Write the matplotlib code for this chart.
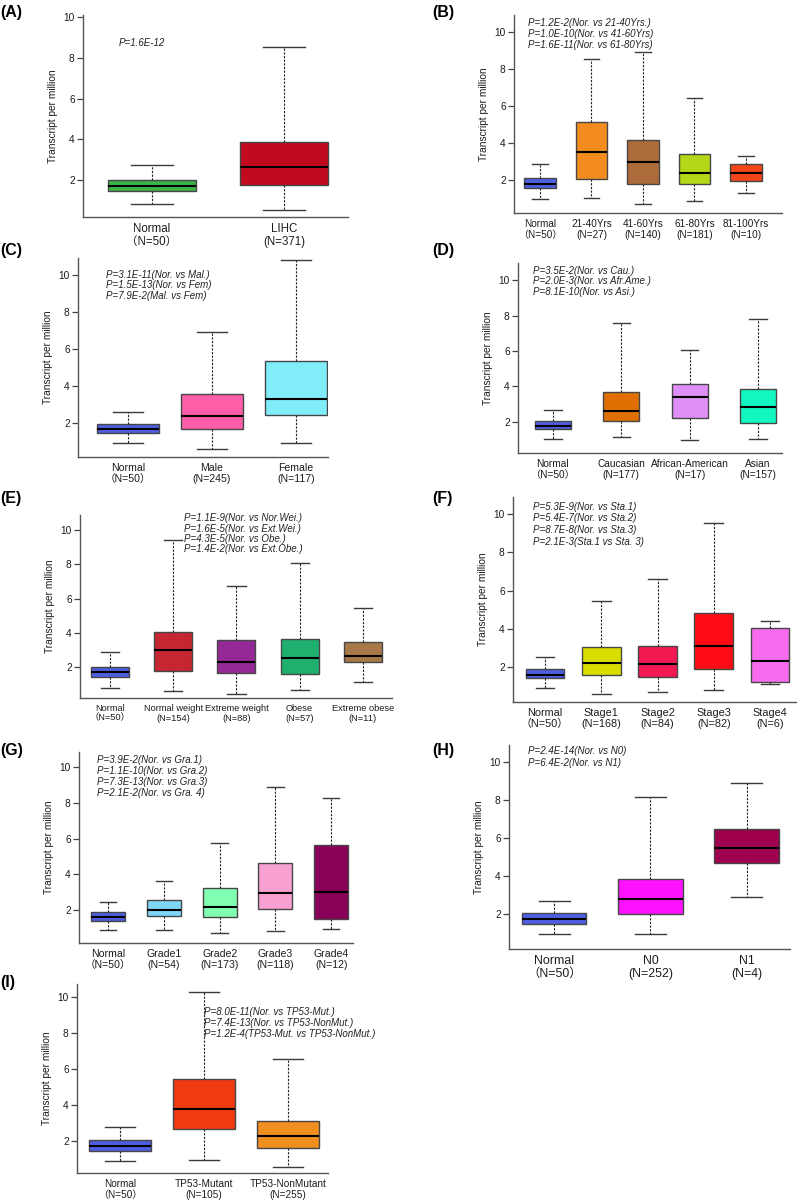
"""
Expression boxplots (TPM) in LIHC, split by clinical subgroups, panels A-I.
Box statistics read off the published figure.
"""

import matplotlib
matplotlib.use("Agg")
import matplotlib.pyplot as plt

W, H = 797, 1202
plt.rcParams["font.family"] = ["Liberation Sans", "Noto Sans CJK SC", "DejaVu Sans"]

# ── data: whisker low, Q1, median, Q3, whisker high ─────────────────────────

A_GROUPS = ["Normal", "LIHC"]
A_N = [50, 371]
A_LOW = [0.85, 0.55]
A_Q1 = [1.45, 1.78]
A_MED = [1.70, 2.65]
A_Q3 = [2.00, 3.88]
A_HIGH = [2.75, 8.55]
A_P = ["P=1.6E-12"]

B_GROUPS = ["Normal", "21-40Yrs", "41-60Yrs", "61-80Yrs", "81-100Yrs"]
B_N = [50, 27, 140, 181, 10]
B_LOW = [0.95, 1.05, 0.70, 0.85, 1.30]
B_Q1 = [1.55, 2.05, 1.80, 1.80, 1.95]
B_MED = [1.80, 3.50, 2.95, 2.40, 2.40]
B_Q3 = [2.10, 5.12, 4.15, 3.40, 2.85]
B_HIGH = [2.85, 8.55, 8.90, 6.45, 3.30]
B_P = ["P=1.2E-2(Nor. vs 21-40Yrs.)",
       "P=1.0E-10(Nor. vs 41-60Yrs)",
       "P=1.6E-11(Nor. vs 61-80Yrs)"]

C_GROUPS = ["Normal", "Male", "Female"]
C_N = [50, 245, 117]
C_LOW = [0.90, 0.60, 0.90]
C_Q1 = [1.45, 1.68, 2.42]
C_MED = [1.68, 2.35, 3.30]
C_Q3 = [1.92, 3.55, 5.35]
C_HIGH = [2.60, 6.90, 10.80]
C_P = ["P=3.1E-11(Nor. vs Mal.)",
       "P=1.5E-13(Nor. vs Fem)",
       "P=7.9E-2(Mal. vs Fem)"]

D_GROUPS = ["Normal", "Caucasian", "African-American", "Asian"]
D_N = [50, 177, 17, 157]
D_LOW = [1.05, 1.15, 1.00, 1.05]
D_Q1 = [1.58, 2.05, 2.22, 1.92]
D_MED = [1.80, 2.60, 3.38, 2.85]
D_Q3 = [2.08, 3.68, 4.12, 3.85]
D_HIGH = [2.70, 7.60, 6.05, 7.82]
D_P = ["P=3.5E-2(Nor. vs Cau.)",
       "P=2.0E-3(Nor. vs Afr.Ame.)",
       "P=8.1E-10(Nor. vs Asi.)"]

E_GROUPS = ["Normal", "Normal weight", "Extreme weight", "Obese", "Extreme obese"]
E_N = [50, 154, 88, 57, 11]
E_LOW = [0.75, 0.62, 0.45, 0.68, 1.12]
E_Q1 = [1.40, 1.75, 1.65, 1.60, 2.30]
E_MED = [1.72, 3.00, 2.27, 2.52, 2.65]
E_Q3 = [2.02, 4.05, 3.55, 3.62, 3.48]
E_HIGH = [2.90, 9.40, 6.72, 8.05, 5.47]
E_P = ["P=1.1E-9(Nor. vs Nor.Wei.)",
       "P=1.6E-5(Nor. vs Ext.Wei.)",
       "P=4.3E-5(Nor. vs Obe.)",
       "P=1.4E-2(Nor. vs Ext.Obe.)"]

F_GROUPS = ["Normal", "Stage1", "Stage2", "Stage3", "Stage4"]
F_N = [50, 168, 84, 82, 6]
F_LOW = [0.90, 0.60, 0.70, 0.80, 1.10]
F_Q1 = [1.45, 1.60, 1.50, 1.92, 1.20]
F_MED = [1.60, 2.20, 2.17, 3.12, 2.30]
F_Q3 = [1.88, 3.07, 3.12, 4.80, 4.05]
F_HIGH = [2.50, 5.45, 6.62, 9.55, 4.40]
F_P = ["P=5.3E-9(Nor. vs Sta.1)",
       "P=5.4E-7(Nor. vs Sta.2)",
       "P=8.7E-8(Nor. vs Sta.3)",
       "P=2.1E-3(Sta.1 vs Sta. 3)"]

G_GROUPS = ["Normal", "Grade1", "Grade2", "Grade3", "Grade4"]
G_N = [50, 54, 173, 118, 12]
G_LOW = [0.88, 0.90, 0.70, 0.82, 0.97]
G_Q1 = [1.40, 1.67, 1.60, 2.08, 1.48]
G_MED = [1.60, 2.00, 2.20, 2.98, 3.00]
G_Q3 = [1.88, 2.57, 3.22, 4.65, 5.65]
G_HIGH = [2.48, 3.65, 5.77, 8.88, 8.28]
G_P = ["P=3.9E-2(Nor. vs Gra.1)",
       "P=1.1E-10(Nor. vs Gra.2)",
       "P=7.3E-13(Nor. vs Gra.3)",
       "P=2.1E-2(Nor. vs Gra. 4)"]

H_GROUPS = ["Normal", "N0", "N1"]
H_N = [50, 252, 4]
H_LOW = [0.95, 0.97, 2.88]
H_Q1 = [1.50, 2.00, 4.70]
H_MED = [1.75, 2.78, 5.45]
H_Q3 = [2.05, 3.82, 6.45]
H_HIGH = [2.70, 8.15, 8.88]
H_P = ["P=2.4E-14(Nor. vs N0)",
       "P=6.4E-2(Nor. vs N1)"]

I_GROUPS = ["Normal", "TP53-Mutant", "TP53-NonMutant"]
I_N = [50, 105, 255]
I_LOW = [0.88, 0.92, 0.57]
I_Q1 = [1.42, 2.68, 1.60]
I_MED = [1.70, 3.80, 2.30]
I_Q3 = [2.08, 5.45, 3.13]
I_HIGH = [2.75, 10.30, 6.57]
I_P = ["P=8.0E-11(Nor. vs TP53-Mut.)",
       "P=7.4E-13(Nor. vs TP53-NonMut.)",
       "P=1.2E-4(TP53-Mut. vs TP53-NonMut.)"]

# ── styles ───────────────────────────────────────────────────────────────────
NORMAL_BLUE = "#4f5ee0"
COLORS = {
    "A": ["#3db449", "#c20a1e"],
    "B": [NORMAL_BLUE, "#f28c1e", "#ad6a3a", "#b4d718", "#f2451a"],
    "C": [NORMAL_BLUE, "#ff5ea8", "#80edf9"],
    "D": [NORMAL_BLUE, "#de6f00", "#df8ff7", "#12f7bf"],
    "E": [NORMAL_BLUE, "#c6262f", "#942894", "#1fb06f", "#a87848"],
    "F": [NORMAL_BLUE, "#d8df00", "#f21852", "#fe0b16", "#f76cef"],
    "G": [NORMAL_BLUE, "#80d6f7", "#80ffb2", "#f8a0d2", "#880057"],
    "H": [NORMAL_BLUE, "#ff12ff", "#9e004e"],
    "I": [NORMAL_BLUE, "#f03a12", "#f08e20"],
}
TEXT = "#1c1c1c"

DATA = {
    "A": (A_GROUPS, A_N, A_LOW, A_Q1, A_MED, A_Q3, A_HIGH, A_P),
    "B": (B_GROUPS, B_N, B_LOW, B_Q1, B_MED, B_Q3, B_HIGH, B_P),
    "C": (C_GROUPS, C_N, C_LOW, C_Q1, C_MED, C_Q3, C_HIGH, C_P),
    "D": (D_GROUPS, D_N, D_LOW, D_Q1, D_MED, D_Q3, D_HIGH, D_P),
    "E": (E_GROUPS, E_N, E_LOW, E_Q1, E_MED, E_Q3, E_HIGH, E_P),
    "F": (F_GROUPS, F_N, F_LOW, F_Q1, F_MED, F_Q3, F_HIGH, F_P),
    "G": (G_GROUPS, G_N, G_LOW, G_Q1, G_MED, G_Q3, G_HIGH, G_P),
    "H": (H_GROUPS, H_N, H_LOW, H_Q1, H_MED, H_Q3, H_HIGH, H_P),
    "I": (I_GROUPS, I_N, I_LOW, I_Q1, I_MED, I_Q3, I_HIGH, I_P),
}

# layout in pixels: axes (left, top, right, bottom), xlim, ylim, box width,
# x-label font size, p-value text (x, line y's), panel letter (x, y)
LAYOUT = {
    "A": dict(rect=(83, 15, 348, 217), xlim=(0.477, 2.485), ylim=(0.19, 10.1),
              w=0.67, xfs=8.3, ptxt=(119, [43]), tag=(0, 12)),
    "B": dict(rect=(514, 15, 782, 213), xlim=(0.495, 5.70), ylim=(0.22, 10.92),
              w=0.62, xfs=7.2, ptxt=(528, [23, 34, 45]), tag=(432, 12)),
    "C": dict(rect=(78, 258, 328, 457), xlim=(0.405, 3.38), ylim=(0.16, 10.92),
              w=0.73, xfs=7.6, ptxt=(106, [275, 285, 296]), tag=(0, 251)),
    "D": dict(rect=(518, 263, 782, 453), xlim=(0.49, 4.35), ylim=(0.25, 10.96),
              w=0.53, xfs=7.3, ptxt=(533, [271, 281, 292]), tag=(432, 250)),
    "E": dict(rect=(80, 515, 392, 698), xlim=(0.526, 5.46), ylim=(0.19, 10.88),
              w=0.60, xfs=6.7, ptxt=(184, [518, 529, 539, 549]), tag=(0, 498)),
    "F": dict(rect=(513, 497, 797, 702), xlim=(0.43, 5.48), ylim=(0.17, 10.89),
              w=0.69, xfs=7.8, ptxt=(533, [507, 518, 530, 542]), tag=(432, 498)),
    "G": dict(rect=(79, 752, 353, 943), xlim=(0.48, 5.39), ylim=(0.16, 10.84),
              w=0.61, xfs=7.6, ptxt=(97, [760, 771, 782, 793]), tag=(0, 750)),
    "H": dict(rect=(509, 745, 790, 949), xlim=(0.53, 3.45), ylim=(0.16, 10.89),
              w=0.67, xfs=8.9, ptxt=(528, [751, 763]), tag=(432, 750)),
    "I": dict(rect=(77, 984, 328, 1173), xlim=(0.49, 3.48), ylim=(0.22, 10.72),
              w=0.74, xfs=7.2, ptxt=(204, [1012, 1023, 1034]), tag=(0, 982)),
}


def make_stats(low, q1, med, q3, high):
    return [dict(whislo=a, q1=b, med=c, q3=d, whishi=e, fliers=[])
            for a, b, c, d, e in zip(low, q1, med, q3, high)]


def tick_label(group, n):
    # the Normal label uses full-width brackets in the original
    if group == "Normal":
        return f"{group}\n（N={n}）"
    return f"{group}\n(N={n})"


fig = plt.figure(figsize=(W / 100, H / 100), dpi=100)

for key, (groups, ns, low, q1, med, q3, high, ptext) in DATA.items():
    lay = LAYOUT[key]
    l, t, r, b = lay["rect"]
    ax = fig.add_axes([l / W, 1 - b / H, (r - l) / W, (b - t) / H])

    pos = list(range(1, len(groups) + 1))
    w = lay["w"]
    bp = ax.bxp(
        make_stats(low, q1, med, q3, high),
        positions=pos, widths=w, capwidths=w * 0.48,
        patch_artist=True, showfliers=False,
        boxprops=dict(edgecolor="#474747", linewidth=1.0),
        medianprops=dict(color="black", linewidth=1.5),
        whiskerprops=dict(color="#222222", linewidth=0.8,
                          linestyle=(0, (2.0, 1.3))),
        capprops=dict(color="#3a3a3a", linewidth=1.0),
    )
    for patch, c in zip(bp["boxes"], COLORS[key]):
        patch.set_facecolor(c)

    ax.set_xlim(*lay["xlim"])
    ax.set_ylim(*lay["ylim"])
    ax.set_yticks([2, 4, 6, 8, 10])
    ax.set_xticks(pos)
    ax.set_xticklabels([tick_label(g, n) for g, n in zip(groups, ns)],
                       fontsize=lay["xfs"], color=TEXT, linespacing=1.15)
    ax.tick_params(axis="x", length=0, pad=4)
    ax.tick_params(axis="y", length=4, width=0.9, color="#444444",
                   labelsize=7.3, labelcolor=TEXT, pad=2)
    for s in ("top", "right"):
        ax.spines[s].set_visible(False)
    for s in ("left", "bottom"):
        ax.spines[s].set_color("#555555")
        ax.spines[s].set_linewidth(1.0)
    ax.set_ylabel("Transcript per million", fontsize=7.3, color=TEXT,
                  labelpad=4)

    px, pys = lay["ptxt"]
    for line, py in zip(ptext, pys):
        fig.text(px / W, 1 - py / H, line, fontsize=7.0, style="italic",
                 color="#222222", ha="left", va="center")

    tx, ty = lay["tag"]
    fig.text(tx / W, 1 - ty / H, f"({key})", fontsize=11.5, fontweight="bold",
             ha="left", va="center")

fig.savefig("out.png", dpi=100)
